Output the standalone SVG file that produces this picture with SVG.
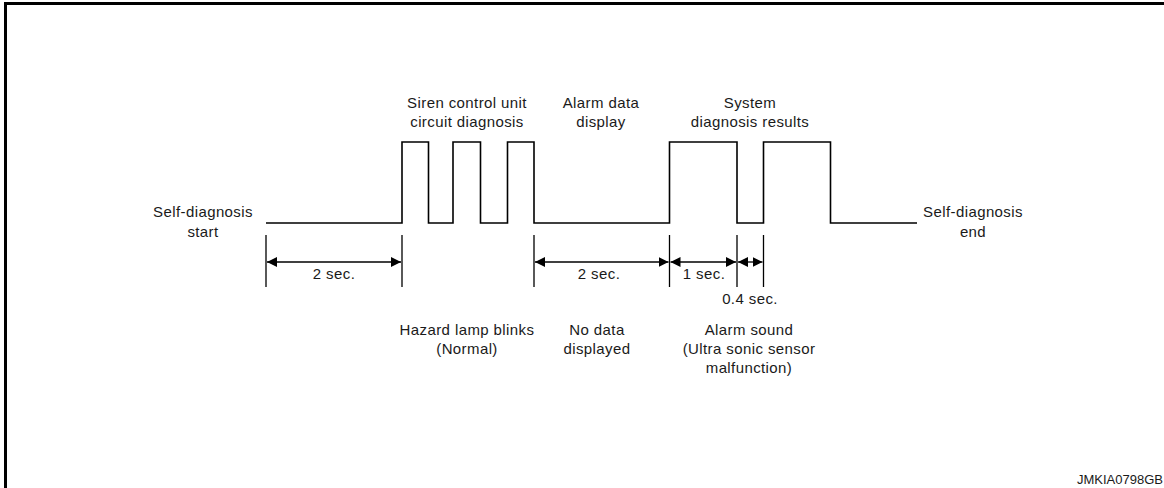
<svg xmlns="http://www.w3.org/2000/svg" width="1164" height="488" viewBox="0 0 1164 488">
<style>
text{font-family:"Liberation Sans",Arial,sans-serif;font-size:15px;letter-spacing:0.4px;fill:#1a1a1a;text-anchor:middle}
.wave{fill:none;stroke:#000;stroke-width:1.6}
.dim{fill:none;stroke:#000;stroke-width:1.3}
.code{font-size:13px;letter-spacing:0;text-anchor:end}
</style>
<defs>
<marker id="ah" viewBox="0 0 10 10" refX="10" refY="5" markerWidth="10" markerHeight="10" markerUnits="userSpaceOnUse" orient="auto-start-reverse">
<path d="M0,0 L10,5 L0,10 Z" fill="#000"/>
</marker>
</defs>
<rect width="1164" height="488" fill="#fff"/>
<path d="M5.5,488 V3.5 H1164" fill="none" stroke="#000" stroke-width="3"/>
<g id="waveform">
<path class="wave" d="M266,223 H402 V142 H428.5 V223 H453 V142 H480.5 V223 H507.5 V142 H534 V223 H669.5 V142 H737 V223 H763.5 V142 H830.5 V223 H917"/>
</g>
<g id="connectors">
<path class="dim" d="M266,235 V287 M402,235 V287 M534,235 V287 M669.5,235 V287 M737,235 V287 M763.5,235 V287"/>
<line class="dim" x1="267" y1="262" x2="401" y2="262" marker-start="url(#ah)" marker-end="url(#ah)"/>
<line class="dim" x1="535" y1="262" x2="668.5" y2="262" marker-start="url(#ah)" marker-end="url(#ah)"/>
<line class="dim" x1="670.5" y1="262" x2="736" y2="262" marker-start="url(#ah)" marker-end="url(#ah)"/>
<line class="dim" x1="738" y1="262" x2="762.5" y2="262" marker-start="url(#ah)" marker-end="url(#ah)"/>
</g>
<g id="start"><text x="203" y="217">Self-diagnosis</text><text x="203" y="237">start</text></g>
<g id="end"><text x="973" y="217">Self-diagnosis</text><text x="973" y="237">end</text></g>
<g id="siren"><text x="467" y="108">Siren control unit</text><text x="467" y="127">circuit diagnosis</text></g>
<g id="alarm-data"><text x="601" y="108">Alarm data</text><text x="601" y="127">display</text></g>
<g id="system"><text x="750" y="108">System</text><text x="750" y="127">diagnosis results</text></g>
<g id="t1"><text x="334" y="279">2 sec.</text></g>
<g id="t2"><text x="599" y="279">2 sec.</text></g>
<g id="t3"><text x="704" y="279">1 sec.</text></g>
<g id="t4"><text x="750" y="304">0.4 sec.</text></g>
<g id="hazard"><text x="467" y="335">Hazard lamp blinks</text><text x="467" y="354">(Normal)</text></g>
<g id="nodata"><text x="597" y="335">No data</text><text x="597" y="354">displayed</text></g>
<g id="alarm-sound"><text x="749" y="335">Alarm sound</text><text x="749" y="354">(Ultra sonic sensor</text><text x="749" y="373">malfunction)</text></g>
<text class="code" x="1163" y="484">JMKIA0798GB</text>
</svg>
